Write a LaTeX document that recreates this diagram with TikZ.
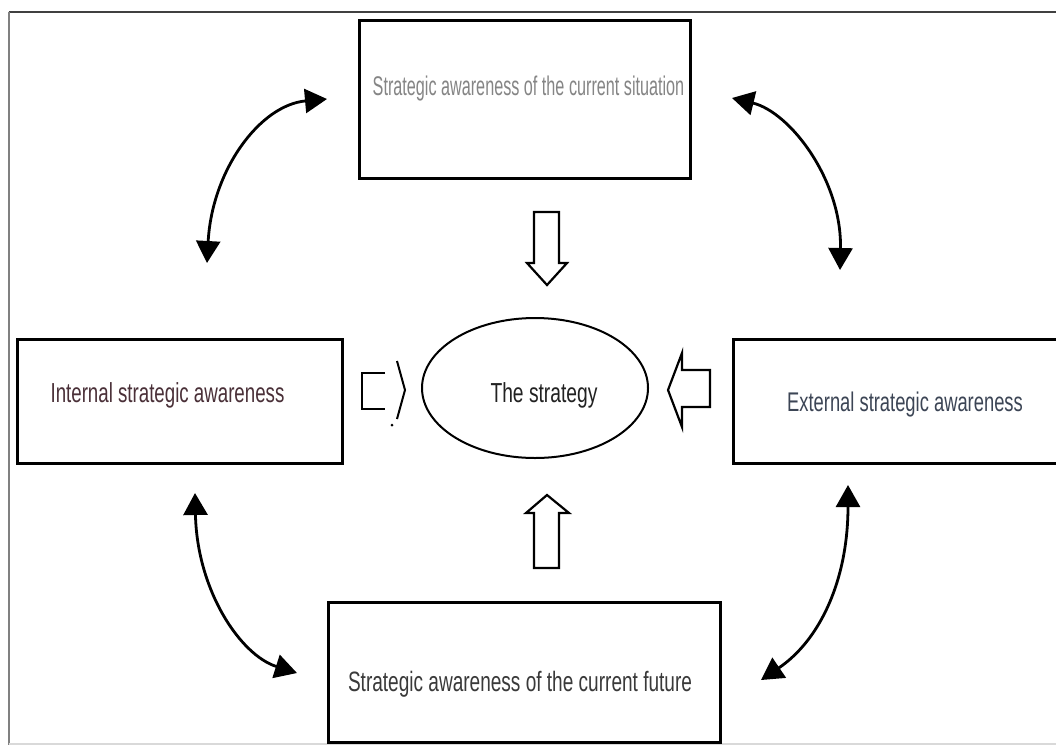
\documentclass[tikz,border=0pt]{standalone}
\usepackage{fontspec}
\usetikzlibrary{shapes.geometric,arrows.meta}
\newfontfamily\narrowtop[FakeStretch=0.60]{Liberation Sans}
\newfontfamily\narrowbox[FakeStretch=0.68]{Liberation Sans}
\newfontfamily\narrowmid[FakeStretch=0.70]{Liberation Sans}
\definecolor{topgray}{HTML}{858585}
\definecolor{intcol}{HTML}{4A3038}
\definecolor{extcol}{HTML}{3C4555}
\definecolor{midcol}{HTML}{222222}
\definecolor{botcol}{HTML}{3A3A3A}
\tikzset{
  boxnode/.style={draw=black, line width=3pt, rectangle, inner sep=0pt},
  lbl/.style={anchor=base, inner sep=0pt},
  blockarrow/.style={draw=black, line width=2.2pt, fill=white, line join=miter},
  bidir/.style={line width=2.8pt, {Triangle[length=22pt,width=24pt]}-{Triangle[length=22pt,width=24pt]}}
}
\begin{document}
\begin{tikzpicture}[x=1pt,y=-1pt]
\useasboundingbox (0,0) rectangle (1056,745);
\fill[white] (0,0) rectangle (1056,745);
% outer frame
\draw[line width=1.6pt, color=black!75] (8.5,12) -- (1056,12);
\draw[line width=2pt, color=black!50] (8.5,12) -- (8.5,745);
\draw[line width=2pt, color=black!15] (8.5,743.5) -- (1056,743.5);

% boxes
\node[boxnode, minimum width=331pt, minimum height=158pt] (topbox) at (524.5,99) {};
\node[boxnode, minimum width=325pt, minimum height=124pt] (intbox) at (179.5,401) {};
\begin{scope}
\clip (0,0) rectangle (1056,745);
\node[boxnode, minimum width=330pt, minimum height=124pt] (extbox) at (898,401) {};
\end{scope}
\node[boxnode, minimum width=392pt, minimum height=140pt] (botbox) at (524,672) {};
\node[draw=black, line width=2pt, ellipse, minimum width=226pt, minimum height=140pt, inner sep=0pt] (strat) at (535,388) {};

% labels
\node[lbl, text=topgray, font=\narrowtop\fontsize{27}{30}\selectfont] (toptext) at (528.5,95) {Strategic awareness of the current situation};
\node[lbl, text=intcol, font=\narrowbox\fontsize{27.5}{30}\selectfont] (inttext) at (167.5,402) {Internal strategic awareness};
\node[lbl, text=extcol, font=\narrowbox\fontsize{27}{30}\selectfont] (exttext) at (905,411) {External strategic awareness};
\node[lbl, text=midcol, font=\narrowmid\fontsize{27.5}{30}\selectfont] (strattext) at (544,402) {The strategy};
\node[lbl, text=botcol, font=\narrowbox\fontsize{28}{30}\selectfont] (bottext) at (520,691) {Strategic awareness of the current future};

% block arrows toward the strategy
\draw[blockarrow] (534,212) -- (559,212) -- (559,263) -- (567,263) -- (547,285) -- (527,263) -- (534,263) -- cycle;
\draw[blockarrow] (547,495) -- (569,513) -- (559,513) -- (559,568) -- (534,568) -- (534,513) -- (526,513) -- cycle;
\draw[blockarrow] (668,390) -- (682,353) -- (682,370) -- (710,370) -- (710,407) -- (682,407) -- (682,427) -- cycle;
% broken arrow on the left
\draw[line width=2.2pt, line join=miter] (385,373) -- (362,373) -- (362,409) -- (385,409);
\draw[line width=2pt, line join=miter] (397,361) -- (405,390) -- (397,419);
\fill[black] (392,425) circle (1.5pt);

% curved two-headed arrows
\coordinate (tlA) at (207,263);
\coordinate (tlB) at (327,99);
\draw[bidir] (tlA) .. controls (212,170) and (260,105) .. (tlB);
\coordinate (trA) at (732,98);
\coordinate (trB) at (840,270);
\draw[bidir] (trA) .. controls (790,112) and (842,180) .. (trB);
\coordinate (blA) at (195,493);
\coordinate (blB) at (297,673);
\draw[bidir] (blA) .. controls (197,590) and (240,655) .. (blB);
\coordinate (brA) at (848,485);
\coordinate (brB) at (761,680);
\draw[bidir] (brA) .. controls (848,580) and (820,640) .. (brB);
\end{tikzpicture}
\end{document}
